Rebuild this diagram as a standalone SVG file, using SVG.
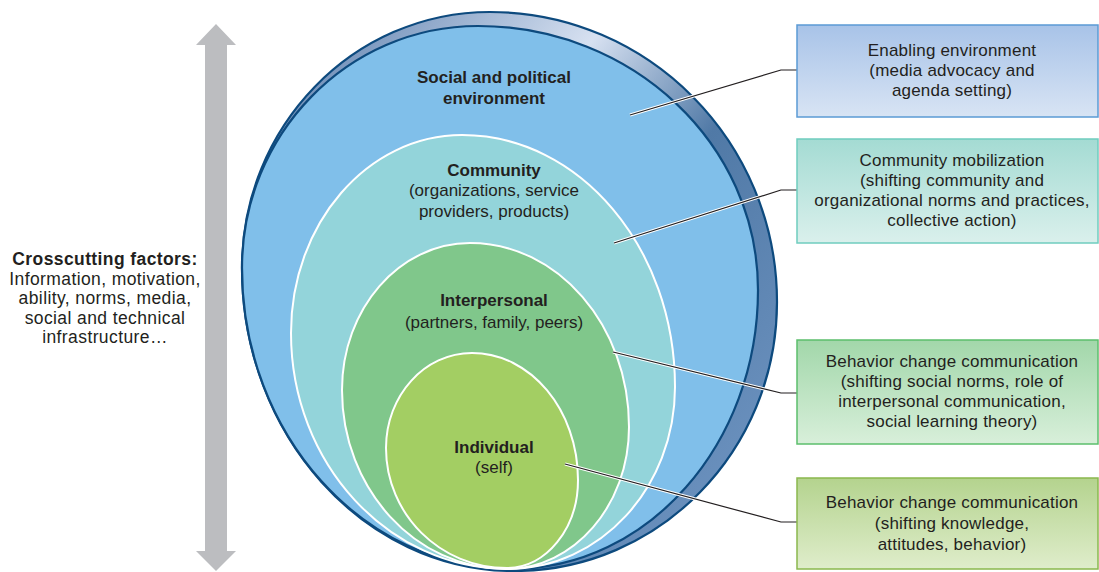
<svg xmlns="http://www.w3.org/2000/svg" width="1099" height="572" viewBox="0 0 1099 572">
  <defs>
    <linearGradient id="rimGrad" gradientUnits="userSpaceOnUse" x1="300" y1="20" x2="780" y2="420">
      <stop offset="0" stop-color="#5d80ae"/>
      <stop offset="0.38" stop-color="#d7e1f1"/>
      <stop offset="0.62" stop-color="#5079a6"/>
      <stop offset="1" stop-color="#6a90bd"/>
    </linearGradient>
    <linearGradient id="gBlue" x1="0" y1="0" x2="0" y2="1">
      <stop offset="0" stop-color="#a8c3e8"/>
      <stop offset="1" stop-color="#d8e4f4"/>
    </linearGradient>
    <linearGradient id="gTeal" x1="0" y1="0" x2="0" y2="1">
      <stop offset="0" stop-color="#a4dbd3"/>
      <stop offset="1" stop-color="#daf0ec"/>
    </linearGradient>
    <linearGradient id="gGreen" x1="0" y1="0" x2="0" y2="1">
      <stop offset="0" stop-color="#a2d7aa"/>
      <stop offset="1" stop-color="#d8efda"/>
    </linearGradient>
    <linearGradient id="gLime" x1="0" y1="0" x2="0" y2="1">
      <stop offset="0" stop-color="#b4d38e"/>
      <stop offset="1" stop-color="#dfedcb"/>
    </linearGradient>
  </defs>
  <style>
    text { font-family: "Liberation Sans", Arial, sans-serif; fill: #231f20; text-anchor: middle; }
    .lbl { font-size: 17px; }
    .side { font-size: 17.5px; letter-spacing: 0.4px; }
    .bold { font-weight: bold; }
    .box text { font-size: 17px; letter-spacing: 0.2px; }
    .ring { stroke: #ffffff; stroke-width: 2; }
    .halo { fill: none; stroke: #ffffff; stroke-width: 3.2; stroke-linejoin: round; }
    .wire { fill: none; stroke: #231f20; stroke-width: 1.2; stroke-linejoin: round; }
  </style>

  <!-- vertical double-headed arrow -->
  <g id="crosscutting-arrow">
    <polygon fill="#bcbdc0" points="216,24 236,45 227,45 227,551 236,551 216,571 196,551 205,551 205,45 196,45"/>
  </g>

  <g id="crosscutting-label">
    <text class="side bold" x="105" y="265">Crosscutting factors:</text>
    <text class="side" x="105" y="284.5">Information, motivation,</text>
    <text class="side" x="105" y="304">ability, norms, media,</text>
    <text class="side" x="105" y="323.5">social and technical</text>
    <text class="side" x="105" y="343">infrastructure…</text>
  </g>

  <!-- social and political environment: rim shell plus front face -->
  <g id="social-political">
    <path fill="url(#rimGrad)" stroke="#0d4a7e" stroke-width="2.2" d="M490,12 C648.5,12 777,141.8 777,302 C777,450.6 659.3,571 514,571 C363.8,571 242,435.3 242,268 C242,126.6 353,12 490,12 Z"/>
    <path fill="#80bfea" stroke="#0d4a7e" stroke-width="2.2" d="M478,26 C632.6,26 758,144.2 758,290 C758,444.1 647.9,569 512,569 C362.9,569 242,434.2 242,268 C242,134.3 347.7,26 478,26 Z"/>
    <text class="lbl bold" x="494" y="83">Social and political</text>
    <text class="lbl bold" x="494" y="104">environment</text>
  </g>

  <g id="community">
    <path class="ring" fill="#93d4da" d="M462,135 C579.6,135 675,247.8 675,387 C675,487.5 600.2,569 508,569 C388.1,569 291,463.3 291,333 C291,223.6 367.6,135 462,135 Z"/>
    <text class="lbl bold" x="494" y="176">Community</text>
    <text class="lbl" x="494" y="196">(organizations, service</text>
    <text class="lbl" x="494" y="217">providers, products)</text>
  </g>

  <g id="interpersonal">
    <path class="ring" fill="#80c78b" d="M470,243 C557.8,243 629,325.4 629,427 C629,505.4 573.9,569 506,569 C415.4,569 342,488.9 342,390 C342,308.8 399.3,243 470,243 Z"/>
    <text class="lbl bold" x="494" y="306">Interpersonal</text>
    <text class="lbl" x="494" y="328">(partners, family, peers)</text>
  </g>

  <g id="individual">
    <path class="ring" fill="#a3ce63" d="M472,353 C530.5,353 578,409.9 578,480 C578,528.6 546.2,568 507,568 C440.2,568 386,514.3 386,448 C386,395.5 424.5,353 472,353 Z"/>
    <text class="lbl bold" x="494" y="453">Individual</text>
    <text class="lbl" x="494" y="473">(self)</text>
  </g>

  <!-- leader lines from each level to its intervention box -->
  <g id="connectors">
    <polyline class="halo" points="630,115 781,70 797,70"/>
    <polyline class="wire" points="630,115 781,70 797,70"/>
    <polyline class="halo" points="614,243 781,190 797,190"/>
    <polyline class="wire" points="614,243 781,190 797,190"/>
    <polyline class="halo" points="613,352 781,393 797,393"/>
    <polyline class="wire" points="613,352 781,393 797,393"/>
    <polyline class="halo" points="565,464 781,522 797,522"/>
    <polyline class="wire" points="565,464 781,522 797,522"/>
  </g>

  <g id="box-enabling" class="box">
    <rect x="797" y="25" width="301" height="92" fill="url(#gBlue)" stroke="#5b9bd5" stroke-width="1.5"/>
    <text x="952" y="56">Enabling environment</text>
    <text x="952" y="76">(media advocacy and</text>
    <text x="952" y="96">agenda setting)</text>
  </g>

  <g id="box-community" class="box">
    <rect x="797" y="139" width="301" height="104" fill="url(#gTeal)" stroke="#6fcdbf" stroke-width="1.5"/>
    <text x="952" y="166">Community mobilization</text>
    <text x="952" y="186">(shifting community and</text>
    <text x="952" y="206">organizational norms and practices,</text>
    <text x="952" y="226">collective action)</text>
  </g>

  <g id="box-interpersonal" class="box">
    <rect x="797" y="340" width="301" height="104" fill="url(#gGreen)" stroke="#5cbf6c" stroke-width="1.5"/>
    <text x="952" y="367">Behavior change communication</text>
    <text x="952" y="387">(shifting social norms, role of</text>
    <text x="952" y="407">interpersonal communication,</text>
    <text x="952" y="427">social learning theory)</text>
  </g>

  <g id="box-individual" class="box">
    <rect x="797" y="478" width="301" height="91" fill="url(#gLime)" stroke="#8ab84e" stroke-width="1.5"/>
    <text x="952" y="508">Behavior change communication</text>
    <text x="952" y="529">(shifting knowledge,</text>
    <text x="952" y="550">attitudes, behavior)</text>
  </g>
</svg>
